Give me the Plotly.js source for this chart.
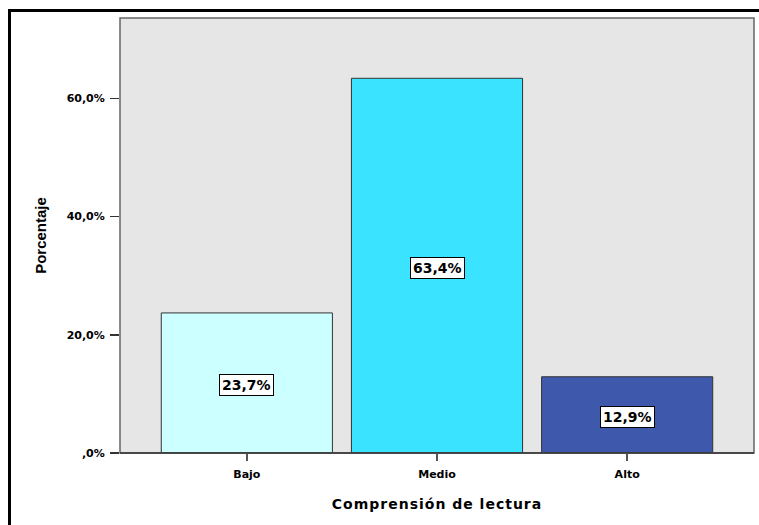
<!DOCTYPE html>
<html>
<head>
<meta charset="utf-8">
<script src="https://cdn.plot.ly/plotly-3.0.1.min.js"></script>
<style>
  html, body { margin: 0; padding: 0; background: #fff; }
  #wrap { position: relative; width: 759px; height: 525px; overflow: hidden; }
  #chart { position: absolute; left: 0; top: 0; width: 759px; height: 525px; }
  #frame { position: absolute; left: 8px; top: 9px; width: 900px; height: 900px;
           border-left: 3px solid #000; border-top: 3px solid #000; pointer-events: none; z-index: 5; }
  .g-xtitle text { letter-spacing: 1px; }
</style>
</head>
<body>
<div id="wrap">
  <div id="chart"></div>
  <div id="frame"></div>
</div>
<script>
const categories = ["Bajo", "Medio", "Alto"];
const values = [23.7, 63.4, 12.9];
const valueLabels = ["23,7%", "63,4%", "12,9%"];
const barColors = ["#ccffff", "#3ae3ff", "#3e58ac"];
const yTickVals = [0, 20, 40, 60];
const yTickText = [",0%", "20,0%", "40,0%", "60,0%"];

const tickFont = { family: "DejaVu Sans", size: 11, color: "#000", weight: "bold" };

const trace = {
  type: "bar",
  x: categories,
  y: values,
  width: 0.9,
  marker: { color: barColors, line: { color: "#333", width: 1 } },
  hoverinfo: "skip"
};

const annotations = categories.map((c, i) => ({
  x: c, y: values[i] / 2, xref: "x", yref: "y",
  text: valueLabels[i], showarrow: false, yshift: -2,
  font: { family: "DejaVu Sans", size: 14, color: "#000", weight: "bold" },
  bgcolor: "#fff", bordercolor: "#000", borderwidth: 1, borderpad: 2
}));

const layout = {
  width: 759, height: 525,
  margin: { l: 120, r: 5, t: 18, b: 72 },
  paper_bgcolor: "#fff",
  plot_bgcolor: "#e6e6e6",
  showlegend: false,
  xaxis: {
    type: "category",
    range: [-0.667, 2.667],
    showgrid: false, zeroline: false,
    showline: false,
    ticks: "outside", ticklen: 7, tickwidth: 1.5, tickcolor: "#555",
    ticklabelstandoff: 4,
    tickfont: tickFont,
    title: { text: "Comprensión de lectura", standoff: 18,
             font: { family: "DejaVu Sans", size: 14, color: "#000", weight: "bold" } }
  },
  yaxis: {
    range: [0, 73.6],
    tickvals: yTickVals, ticktext: yTickText,
    showgrid: false, zeroline: false,
    showline: false,
    ticks: "outside", ticklen: 9, tickwidth: 1.5, tickcolor: "#333",
    ticklabelstandoff: 3,
    tickfont: tickFont,
    title: { text: "Porcentaje", standoff: 16,
             font: { family: "Liberation Sans", size: 15, color: "#000", weight: "bold" } }
  },
  shapes: [
    { type: "rect", xref: "paper", yref: "paper", x0: 0, x1: 1, y0: 0, y1: 1,
      line: { color: "#666", width: 1.5 }, layer: "above" },
    { type: "line", xref: "paper", yref: "paper", x0: 0, x1: 1, y0: 0, y1: 0,
      line: { color: "#333", width: 1.5 }, layer: "above" }
  ],
  annotations: annotations
};

Plotly.newPlot("chart", [trace], layout, { staticPlot: true, displayModeBar: false });
</script>
</body>
</html>
